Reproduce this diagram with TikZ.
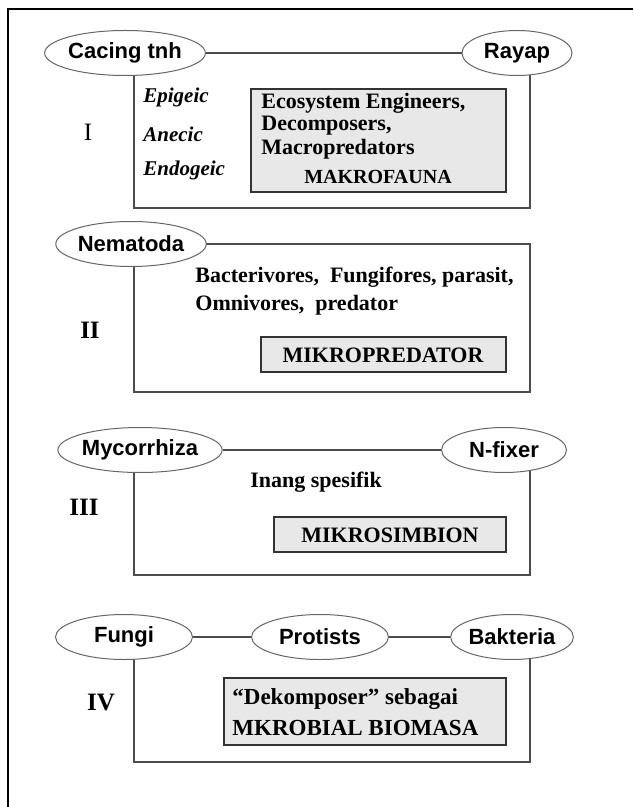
\documentclass[tikz,border=0pt]{standalone}
\usepackage{fontspec}
\setmainfont{Liberation Serif}
\newfontfamily\organismfont{Liberation Sans}
\usetikzlibrary{shapes.geometric}

\begin{document}
\begin{tikzpicture}[x=0.5pt,y=-0.5pt,
  organism/.style={ellipse, draw=black!60, fill=white, line width=0.5pt, minimum height=22.5pt, minimum width=#1, inner sep=0pt, font=\organismfont\bfseries\fontsize{11}{13}\selectfont},
  groupline/.style={draw=black!70, line width=0.55pt},
  rolebox/.style={draw=black!80, fill=black!9, line width=0.6pt},
  roletext/.style={inner sep=0pt, font=\bfseries\fontsize{11}{13}\selectfont},
  variety/.style={inner sep=0pt, anchor=west, font=\bfseries\itshape\fontsize{10.5}{12}\selectfont},
  numeral/.style={inner sep=0pt, font=\fontsize{12.5}{14}\selectfont}]
\useasboundingbox (0,0) rectangle (633,807);

%Shape: Frame
\draw[line width=1.2pt] (8,807) -- (8,9) -- (633,9);

%%% Group I
\coordinate (Itl) at (134,53);
\coordinate (Itr) at (530,53);
\coordinate (Ibl) at (134,208);
\coordinate (Ibr) at (530,208);
\draw[groupline] (Itl) -- (Ibl) -- (Ibr) -- (Itr);
\node[organism=73pt] (cacing) at (125,53) {Cacing tnh};
\node[organism=55pt] (rayap) at (517,53) {Rayap};
\draw[groupline] (cacing) -- (rayap);
% Text Node
\node[numeral] (numI) at (88,132) {I};
\node[variety] (epigeic) at (143,97) {Epigeic};
\node[variety] (anecic) at (143,134) {Anecic};
\node[variety] (endogeic) at (143,170) {Endogeic};
%Shape: Rectangle
\path[rolebox] (251,89) rectangle (506,192);
\node[roletext, anchor=west] (engineers) at (261,103) {Ecosystem Engineers,};
\node[roletext, anchor=west] (decomposers) at (261,126) {Decomposers,};
\node[roletext, anchor=west] (macropred) at (261,149) {Macropredators};
\node[roletext, font=\bfseries\fontsize{10}{12}\selectfont] (makrofauna) at (378,177) {MAKROFAUNA};

%%% Group II
\draw[groupline] (134,244) rectangle (530,392);
\node[organism=75pt] (nematoda) at (131,244) {Nematoda};
% Text Node
\node[numeral, font=\bfseries\fontsize{12.5}{14}\selectfont] (numII) at (90,330) {II};
\node[roletext, anchor=west] (bacterivores) at (195,277) {Bacterivores,\ \ Fungifores, parasit,};
\node[roletext, anchor=west] (omnivores) at (195,305) {Omnivores,\ \ predator};
%Shape: Rectangle
\path[rolebox] (261,337) rectangle (506,372);
\node[roletext] (mikropred) at (383,355) {MIKROPREDATOR};

%%% Group III
\coordinate (IIItl) at (134,450);
\coordinate (IIItr) at (530,450);
\coordinate (IIIbl) at (134,575);
\coordinate (IIIbr) at (530,575);
\draw[groupline] (IIItl) -- (IIIbl) -- (IIIbr) -- (IIItr);
\node[organism=71.5pt] (mycorrhiza) at (140,450) {Mycorrhiza};
\node[organism=62.5pt] (nfixer) at (504,450) {N-fixer};
\draw[groupline] (mycorrhiza) -- (nfixer);
% Text Node
\node[numeral, font=\bfseries\fontsize{12.5}{14}\selectfont] (numIII) at (84,507) {III};
\node[roletext, anchor=west] (inang) at (250,482) {Inang spesifik};
%Shape: Rectangle
\path[rolebox] (274,517) rectangle (506,552);
\node[roletext] (mikrosimbion) at (390,535) {MIKROSIMBION};

%%% Group IV
\coordinate (IVtl) at (134,637);
\coordinate (IVtr) at (530,637);
\coordinate (IVbl) at (134,762);
\coordinate (IVbr) at (530,762);
\draw[groupline] (IVtl) -- (IVbl) -- (IVbr) -- (IVtr);
\node[organism=68.5pt] (fungi) at (124,637) {Fungi};
\node[organism=68.5pt] (protists) at (320,637) {Protists};
\node[organism=56.5pt] (bakteria) at (512,637) {Bakteria};
\draw[groupline] (fungi) -- (protists);
\draw[groupline] (protists) -- (bakteria);
% Text Node
\node[numeral, font=\bfseries\fontsize{12.5}{14}\selectfont] (numIV) at (101,702) {IV};
%Shape: Rectangle
\path[rolebox] (224,678) rectangle (506,745);
\node[roletext, anchor=west, font=\bfseries\fontsize{11.5}{13}\selectfont] (dekomposer) at (232,699) {“Dekomposer” sebagai};
\node[roletext, anchor=west, font=\bfseries\fontsize{11.5}{13}\selectfont] (biomasa) at (232,728) {MKROBIAL BIOMASA};

\end{tikzpicture}
\end{document}
